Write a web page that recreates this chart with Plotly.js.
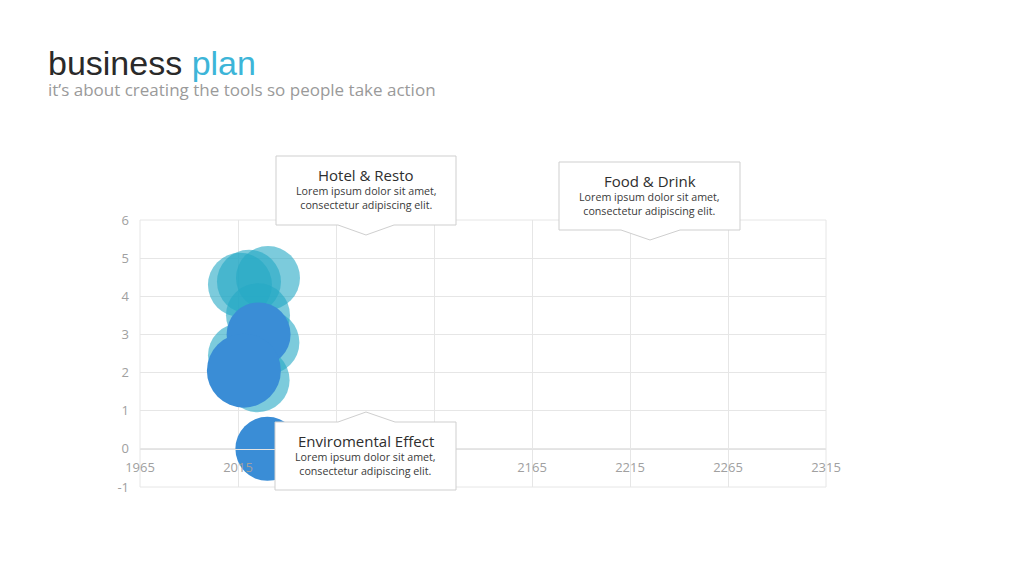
<!DOCTYPE html>
<html>
<head>
<meta charset="utf-8">
<script src="https://cdn.plot.ly/plotly-3.0.1.min.js"></script>
<style>
html,body{margin:0;padding:0;background:#fff;}
#chart{width:1024px;height:576px;}
</style>
</head>
<body>
<div id="chart"></div>
<script>
// ---- data ----
var lightX = [2016, 2020.6, 2030.3, 2025.2, 2030, 2016, 2025];
var lightY = [4.3, 4.38, 4.48, 3.5, 2.79, 2.45, 1.8];
var lightSize = [64, 64, 64, 64, 64, 64, 64];
var darkX = [2025.5, 2018, 2030];
var darkY = [3.0, 2.05, 0];
var darkSize = [64, 74, 64];
var xTicks = [1965, 2015, 2065, 2115, 2165, 2215, 2265, 2315];
var yTicks = [-1, 0, 1, 2, 3, 4, 5, 6];
var callouts = [
  {title: "Hotel & Resto", body: "Lorem ipsum dolor sit amet,<br>consectetur adipiscing elit."},
  {title: "Food & Drink", body: "Lorem ipsum dolor sit amet,<br>consectetur adipiscing elit."},
  {title: "Enviromental Effect", body: "Lorem ipsum dolor sit amet,<br>consectetur adipiscing elit."}
];

// ---- layout helpers (pixel -> paper) ----
var L = 140, R = 826, T = 220, B = 487;
function px(x){ return (x - L) / (R - L); }
function py(y){ return (B - y) / (B - T); }

var boxes = [
  {x0: 276, x1: 456, y0: 156, y1: 225, tip: 235, tx0: 338, tx1: 394, tipX: 366, dir: 'down'},
  {x0: 559, x1: 740, y0: 162, y1: 230, tip: 240, tx0: 621, tx1: 680, tipX: 650, dir: 'down'},
  {x0: 275, x1: 456, y0: 422, y1: 490, tip: 412, tx0: 338, tx1: 395, tipX: 366, dir: 'up'}
];

var shapes = [
  {type: 'rect', xref: 'paper', yref: 'paper', x0: 0, x1: 1, y0: 0, y1: 1,
   line: {color: '#e6e6e6', width: 1}, fillcolor: 'rgba(0,0,0,0)', layer: 'below'}
];
var annotations = [];
boxes.forEach(function(b, i){
  var p;
  if (b.dir === 'down') {
    p = 'M' + px(b.x0) + ',' + py(b.y0) + ' L' + px(b.x1) + ',' + py(b.y0) +
        ' L' + px(b.x1) + ',' + py(b.y1) + ' L' + px(b.tx1) + ',' + py(b.y1) +
        ' L' + px(b.tipX) + ',' + py(b.tip) + ' L' + px(b.tx0) + ',' + py(b.y1) +
        ' L' + px(b.x0) + ',' + py(b.y1) + ' Z';
  } else {
    p = 'M' + px(b.x0) + ',' + py(b.y0) + ' L' + px(b.tx0) + ',' + py(b.y0) +
        ' L' + px(b.tipX) + ',' + py(b.tip) + ' L' + px(b.tx1) + ',' + py(b.y0) +
        ' L' + px(b.x1) + ',' + py(b.y0) + ' L' + px(b.x1) + ',' + py(b.y1) +
        ' L' + px(b.x0) + ',' + py(b.y1) + ' Z';
  }
  shapes.push({type: 'path', xref: 'paper', yref: 'paper', path: p,
    fillcolor: '#ffffff', line: {color: '#cfcfcf', width: 1}, layer: 'above'});
  var cx = (b.x0 + b.x1) / 2;
  annotations.push({xref: 'paper', yref: 'paper', x: px(cx), y: py(b.y0 + 7),
    xanchor: 'center', yanchor: 'top', showarrow: false,
    text: callouts[i].title, font: {family: 'Open Sans', size: 15, color: '#2e2e2e'}});
  annotations.push({xref: 'paper', yref: 'paper', x: px(cx), y: py(b.y0 + 26),
    xanchor: 'center', yanchor: 'top', showarrow: false,
    text: callouts[i].body, font: {family: 'Open Sans', size: 10.7, color: '#3a3a3a'}});
});

annotations.push({xref: 'paper', yref: 'paper', x: px(46), y: py(42),
  xanchor: 'left', yanchor: 'top', showarrow: false,
  text: 'business <span style="color:#3db5d8">plan</span>',
  font: {family: 'Liberation Sans, Arial', size: 34, color: '#2a2a2a'}});
annotations.push({xref: 'paper', yref: 'paper', x: px(46), y: py(76),
  xanchor: 'left', yanchor: 'top', showarrow: false,
  text: 'it\u2019s about creating the tools so people take action',
  font: {family: 'Open Sans', size: 17, color: '#9a9a9a'}});

var traces = [
  {type: 'scatter', mode: 'markers', x: lightX, y: lightY, hoverinfo: 'skip',
   marker: {size: lightSize, opacity: 1, color: 'rgba(37,168,197,0.6)', line: {width: 0}}},
  {type: 'scatter', mode: 'markers', x: darkX, y: darkY, hoverinfo: 'skip',
   marker: {size: darkSize, opacity: 1, color: '#3a8dd6', line: {width: 0}}}
];

var layout = {
  width: 1024, height: 576,
  margin: {l: L, r: 1024 - R, t: T, b: 576 - B, pad: 0},
  paper_bgcolor: '#ffffff', plot_bgcolor: '#ffffff',
  showlegend: false,
  xaxis: {range: [1965, 2315], tickvals: xTicks, ticktext: xTicks.map(String),
    showgrid: true, gridcolor: '#e6e6e6', gridwidth: 1, zeroline: false,
    anchor: 'free', position: 1/7, showline: true, linecolor: '#e3e3e3', linewidth: 1,
    ticks: '', ticklabelstandoff: 7,
    tickfont: {family: 'Open Sans', size: 13, color: '#a0a0a0'}},
  yaxis: {range: [-1, 6], tickvals: yTicks, ticktext: yTicks.map(String),
    showgrid: true, gridcolor: '#e6e6e6', gridwidth: 1, zeroline: false,
    showline: false, ticks: '', ticklabelstandoff: 10,
    tickfont: {family: 'Open Sans', size: 13, color: '#a0a0a0'}},
  shapes: shapes,
  annotations: annotations
};

Plotly.newPlot('chart', traces, layout, {staticPlot: true, displayModeBar: false});
</script>
</body>
</html>
